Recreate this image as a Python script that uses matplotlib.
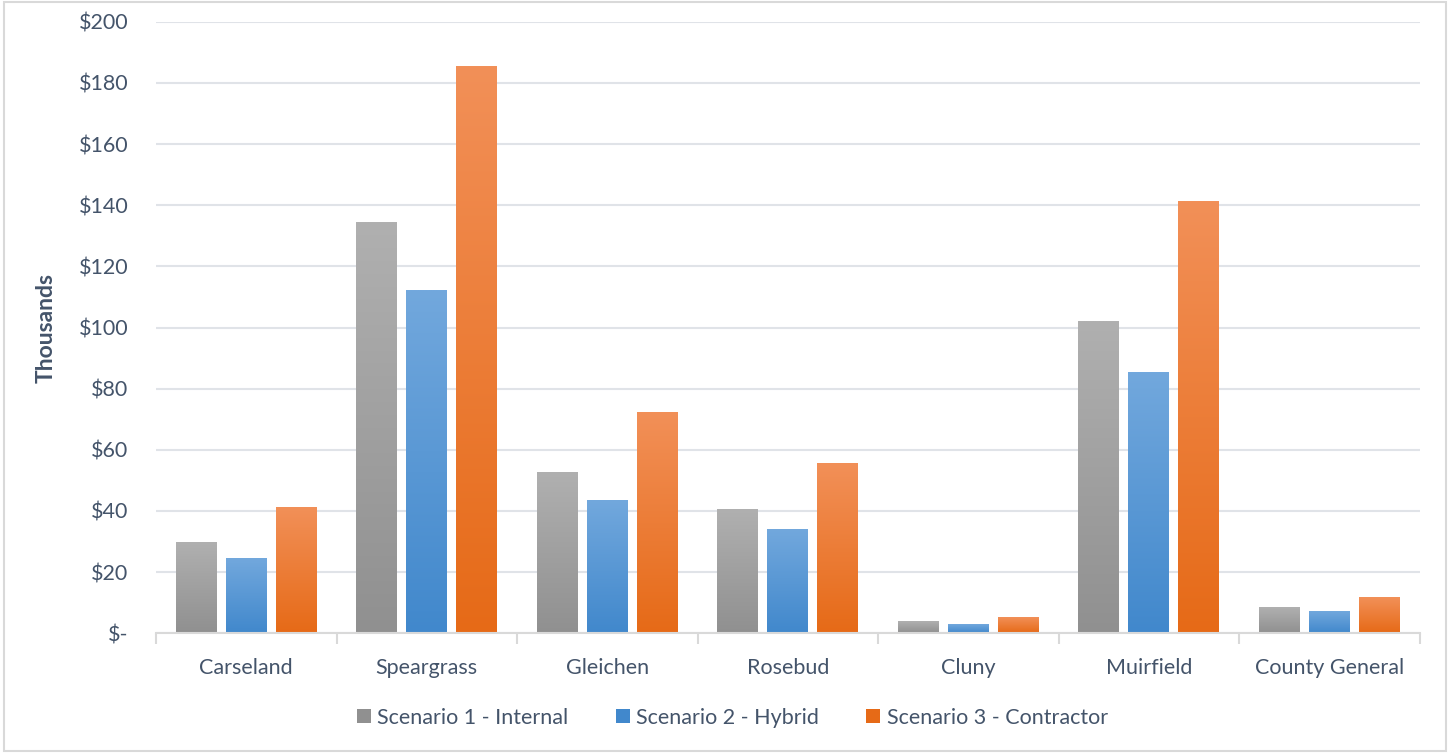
import matplotlib
matplotlib.use("Agg")
import matplotlib.pyplot as plt
import numpy as np
from matplotlib.colors import LinearSegmentedColormap
from matplotlib.patches import Rectangle

plt.rcParams['font.family'] = ['Lato', 'DejaVu Sans']

sites = ['Carseland', 'Speargrass', 'Gleichen', 'Rosebud', 'Cluny', 'Muirfield', 'County General']
internal = [29.5, 134.2, 52.4, 40.3, 3.6, 102.0, 8.2]
hybrid = [24.5, 112.0, 43.5, 33.7, 2.9, 85.1, 6.9]
contractor = [40.9, 185.3, 72.0, 55.6, 5.2, 141.0, 11.5]
series_names = ['Scenario 1 - Internal', 'Scenario 2 - Hybrid', 'Scenario 3 - Contractor']
yticks = [0, 20, 40, 60, 80, 100, 120, 140, 160, 180, 200]

# top colour, bottom colour for each series
grads = [('#b0b0b0', '#909090'), ('#72a8dd', '#4188cc'), ('#f29058', '#e66a17')]
text_col = '#44546a'

fig = plt.figure(figsize=(14.5, 7.53), dpi=100)
fig.patches.append(Rectangle((0.003, 0.003), 0.994, 0.994, transform=fig.transFigure,
                             fill=False, edgecolor='#d9d9d9', linewidth=1.5))
ax = fig.add_axes([0.1076, 0.159, 0.8714, 0.812])

x = np.arange(len(sites))
width = 0.227
offsets = [-0.277, 0, 0.277]
handles = []
for vals, off, (top, bot), name in zip([internal, hybrid, contractor], offsets, grads, series_names):
    cmap = LinearSegmentedColormap.from_list('g', [bot, top])
    bars = ax.bar(x + off, vals, width, color=top, label=name, zorder=2)
    handles.append(bars)
    for b in bars:
        b.set_facecolor('none')
        grad = np.linspace(0, 1, 256).reshape(-1, 1)
        ax.imshow(grad, extent=[b.get_x(), b.get_x() + b.get_width(), 0, b.get_height()],
                  origin='lower', aspect='auto', cmap=cmap, zorder=2)

ax.set_xlim(-0.5, len(sites) - 0.5)
ax.set_ylim(0, 200)
ax.set_yticks(yticks)
ax.set_yticklabels(['$-'] + ['$%d' % v for v in yticks[1:]])
ax.set_xticks(x)
ax.set_xticklabels(sites)
ax.set_xticks(np.arange(len(sites) + 1) - 0.5, minor=True)
ax.tick_params(axis='x', which='major', length=0, pad=18, labelsize=15.5, labelcolor=text_col)
ax.tick_params(axis='x', which='minor', length=8, width=1.5, color='#d9d9d9')
ax.tick_params(axis='y', length=0, pad=20, labelsize=15.5, labelcolor=text_col)
ax.grid(axis='y', color='#e0e3e8', linewidth=1.5, zorder=0)
ax.set_axisbelow(True)
for s in ['top', 'right', 'left']:
    ax.spines[s].set_visible(False)
ax.spines['bottom'].set_color('#d9d9d9')
ax.spines['bottom'].set_linewidth(1.5)
ax.set_ylabel('Thousands', fontsize=16.5, fontweight='bold', color=text_col, labelpad=16)

leg = fig.legend(handles=handles, loc='center', bbox_to_anchor=(0.505, 0.047), ncol=3,
                 frameon=False, fontsize=15.5, handlelength=0.65, handleheight=0.65,
                 handletextpad=0.3, columnspacing=2.2)
for h, (top, bot) in zip(leg.legend_handles, grads):
    h.set_facecolor(bot)
for t in leg.get_texts():
    t.set_color(text_col)

fig.savefig('out.png', dpi=100)
